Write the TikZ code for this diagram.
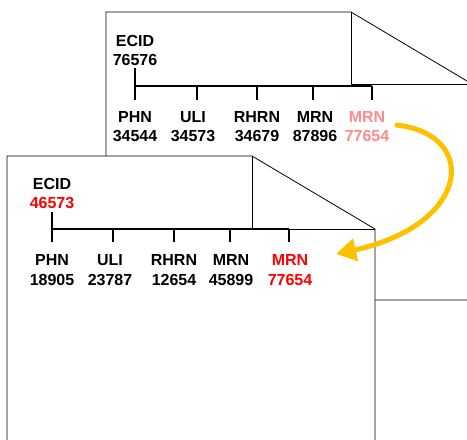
\documentclass[tikz,border=0pt]{standalone}
\usepackage{fontspec}
\setmainfont{Liberation Sans}
\usetikzlibrary{arrows.meta}
\definecolor{idred}{RGB}{255,0,0}
\definecolor{idpink}{RGB}{255,140,140}
\definecolor{linkorange}{RGB}{255,192,0}
\begin{document}
\begin{tikzpicture}
    [
        x = 1pt, y = -1pt,
        page/.style = {draw, line width = 0.8pt, fill = white},
        fold/.style = {draw, line width = 0.8pt},
        idlabel/.style = {align = center, inner sep = 0pt, font = \bfseries\fontsize{16}{19.5}\selectfont},
        bus/.style = {line width = 1.8pt},
        link/.style = {draw = linkorange, line width = 5pt, line cap = round,
            -{Triangle[length = 20pt, width = 22pt]}}
    ]

    \useasboundingbox (0,0) rectangle (467,440);
    \clip (0,0) rectangle (467,440);

    % record behind
    \draw[page] (106,300) -- (106,12) -- (351,12) -- (472,84) -- (472,300) -- cycle;
    \draw[fold] (351,12) -- (351,84) -- (472,84);

    \node[idlabel] (ecid1) at (135,50.5) {ECID\\76576};
    \node[idlabel] (phn1) at (135,126.5) {PHN\\34544};
    \node[idlabel] (uli1) at (193,126.5) {ULI\\34573};
    \node[idlabel] (rhrn1) at (257,126.5) {RHRN\\34679};
    \node[idlabel] (mrn1) at (315,126.5) {MRN\\87896};
    \node[idlabel, text = idpink] (mrnx1) at (367,126.5) {MRN\\77654};

    \draw[bus] (135,68) -- (135,100);
    \draw[bus] (135,86) -- (372,86);
    \foreach \x in {197,257,313,372}
        \draw[bus] (\x,86) -- (\x,100);

    % record in front
    \draw[page] (7,460) -- (7,156) -- (252,156) -- (375,229) -- (375,460);
    \draw[fold] (252,156) -- (252,229) -- (375,229);

    \node[idlabel] (ecid2) at (52,193.5) {ECID\\\textcolor{idred}{46573}};
    \node[idlabel] (phn2) at (52,270) {PHN\\18905};
    \node[idlabel] (uli2) at (110,270) {ULI\\23787};
    \node[idlabel] (rhrn2) at (174,270) {RHRN\\12654};
    \node[idlabel] (mrn2) at (231,270) {MRN\\45899};
    \node[idlabel, text = idred] (mrnx2) at (290,270) {MRN\\77654};

    \draw[bus] (52,212) -- (52,242);
    \draw[bus] (52,229) -- (289,229);
    \foreach \x in {113,174,230,289}
        \draw[bus] (\x,229) -- (\x,242);

    % moved identifier
    \coordinate (from) at (397,125);
    \coordinate (to) at (336,254);
    \draw[link] (from) .. controls (480,135) and (470,225) .. (to);
\end{tikzpicture}
\end{document}
